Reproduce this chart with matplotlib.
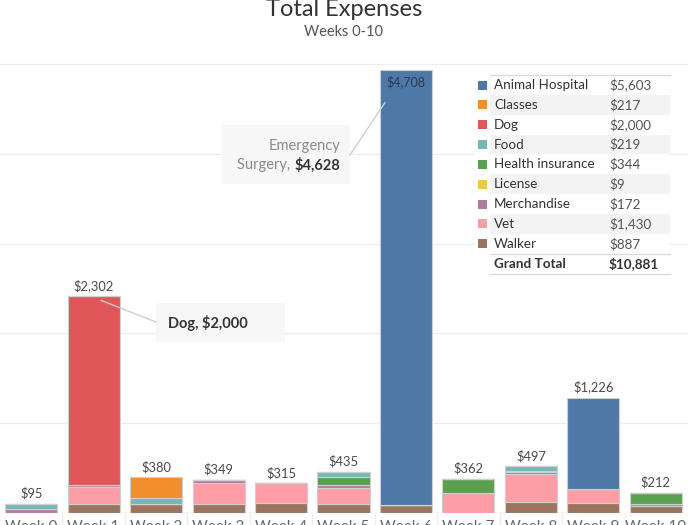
import matplotlib
matplotlib.use('Agg')
import matplotlib.pyplot as plt
from matplotlib.patches import Rectangle
from matplotlib.lines import Line2D
import numpy as np

plt.rcParams['font.family'] = ['Lato', 'DejaVu Sans']

# ---------------- data ----------------
weeks = [f"Week {i}" for i in range(11)]
categories = ['Animal Hospital', 'Classes', 'Dog', 'Food', 'Health insurance',
              'License', 'Merchandise', 'Vet', 'Walker']
animal_hospital = [0, 0, 0, 0, 0, 0, 4628, 0, 0, 975, 0]
classes         = [0, 0, 217, 0, 0, 0, 0, 0, 0, 0, 0]
dog             = [0, 2000, 0, 0, 0, 0, 0, 0, 0, 0, 0]
food            = [50, 0, 65, 0, 0, 55, 0, 0, 49, 0, 0]
health_ins      = [0, 0, 0, 0, 0, 80, 0, 145, 0, 0, 119]
license_fee     = [0, 0, 0, 0, 0, 0, 0, 0, 9, 0, 0]
merchandise     = [45, 28, 0, 28, 0, 29, 0, 0, 28, 0, 14]
vet             = [0, 174, 0, 221, 205, 176, 0, 217, 296, 141, 0]
walker          = [0, 100, 98, 100, 110, 95, 80, 0, 115, 110, 79]

series = [animal_hospital, classes, dog, food, health_ins,
          license_fee, merchandise, vet, walker]
palette = ['#4e79a7', '#f28e2b', '#e15759', '#76b7b2', '#59a14f',
           '#edc948', '#b07aa1', '#ff9da7', '#9c755f']

dog_note = "Dog, $2,000"
surgery_value = 4628

# ---------------- figure ----------------
W, H = 700, 525
fig = plt.figure(figsize=(7, 5.25), dpi=100)

def fx(px):
    return px / W

def fy(py):
    return 1 - py / H

ax = fig.add_axes([0, 12 / H, 687 / W, 449 / H])
ymax = 4708 * 449 / 443
ax.set_xlim(-0.5, 10.5)
ax.set_ylim(0, ymax)
for s in ax.spines.values():
    s.set_visible(False)
ax.set_yticks([])
for k in range(1, 6):
    ax.axhline(ymax * k / 5, color='#ededed', lw=1, zorder=0, clip_on=False)
ax.axhline(0, color='#e3e3e3', lw=1, zorder=0)

x = np.arange(len(weeks))
bottom = np.zeros(len(weeks))
# stack bottom -> top in reverse legend order
for vals, col in zip(series[::-1], palette[::-1]):
    v = np.array(vals, dtype=float)
    ax.bar(x, v, bottom=bottom, width=0.835, color=col,
           edgecolor='#cfcfcf', linewidth=0.8, zorder=2)
    bottom += v

totals = bottom
for xi, t in zip(x, totals):
    lab = f"${int(round(t)):,}"
    if t > 0.93 * ymax:
        ax.annotate(lab, (xi, t), xytext=(0, -4), textcoords='offset points',
                    ha='center', va='top', fontsize=9, color='#2d3b52', zorder=3)
    else:
        ax.annotate(lab, (xi, t), xytext=(0, 3), textcoords='offset points',
                    ha='center', va='bottom', fontsize=9.3, color='#4a4a4a', zorder=3)

ax.set_xticks(x)
ax.set_xticklabels(weeks, fontsize=11, color='#666666')
ax.tick_params(axis='x', length=0, pad=5)
for xi in x[:-1]:
    ax.plot([xi + 0.5, xi + 0.5], [0, -ymax * 0.03], color='#eeeeee', lw=1,
            clip_on=False, zorder=0)

# ---------------- titles ----------------
fig.text(fx(344), fy(10), "Total Expenses", ha='center', va='center',
         fontsize=17, color='#333333')
fig.text(fx(344), fy(32), "Weeks 0-10", ha='center', va='center',
         fontsize=10.5, color='#555555')

# ---------------- legend table ----------------
row0, rowh = 85, 19.85
fig.add_artist(Rectangle((fx(474), fy(274)), fx(670 - 474), (274 - 75) / H,
                         transform=fig.transFigure, facecolor='white',
                         edgecolor='none', zorder=1))
for i in range(len(categories)):
    yc = row0 + rowh * i
    if i % 2 == 1:
        fig.add_artist(Rectangle((fx(490), fy(yc + rowh / 2)), fx(180), rowh / H,
                                 transform=fig.transFigure, facecolor='#f3f3f3',
                                 edgecolor='none', zorder=1))
    fig.add_artist(Rectangle((fx(478), fy(yc + 4.5)), fx(9), 9 / H,
                             transform=fig.transFigure, facecolor=palette[i],
                             edgecolor='none', zorder=2))
    fig.text(fx(494), fy(yc), categories[i], ha='left', va='center',
             fontsize=9.7, color='#333333', zorder=3)
    fig.text(fx(609), fy(yc), f"${sum(series[i]):,}", ha='left', va='center',
             fontsize=9.7, color='#555555', zorder=3)
ygt = row0 + rowh * len(categories)
grand = sum(sum(s) for s in series)
fig.text(fx(494), fy(ygt), "Grand Total", ha='left', va='center',
         fontsize=9.7, color='#333333', fontweight='bold', zorder=3)
fig.text(fx(609), fy(ygt), f"${grand:,}", ha='left', va='center',
         fontsize=9.7, color='#333333', fontweight='bold', zorder=3)
for yl in (75, ygt - rowh / 2, ygt + rowh / 2):
    fig.add_artist(Line2D([fx(490), fx(670)], [fy(yl), fy(yl)],
                          transform=fig.transFigure, color='#dcdcdc', lw=1, zorder=2))

# ---------------- annotations ----------------
# Dog annotation
fig.add_artist(Rectangle((fx(156), fy(342)), fx(129), 39 / H,
                         transform=fig.transFigure, facecolor='#f7f7f7',
                         edgecolor='none', zorder=1))
p_dog = fig.transFigure.inverted().transform(ax.transData.transform((1.12, 2259)))
fig.add_artist(Line2D([p_dog[0], fx(156)], [p_dog[1], fy(322)],
                      transform=fig.transFigure, color='#d0d0d0', lw=1, zorder=2))
fig.text(fx(168), fy(323), dog_note, ha='left', va='center', fontsize=10.5,
         fontweight='bold', color='#333333', zorder=3)

# Emergency surgery annotation
fig.add_artist(Rectangle((fx(222), fy(184)), fx(128), 59 / H,
                         transform=fig.transFigure, facecolor='#f7f7f7',
                         edgecolor='none', zorder=1))
p_sur = fig.transFigure.inverted().transform(ax.transData.transform((5.66, 4358)))
fig.add_artist(Line2D([p_sur[0], fx(350)], [p_sur[1], fy(155)],
                      transform=fig.transFigure, color='#d0d0d0', lw=1, zorder=2))
fig.text(fx(340), fy(146), "Emergency", ha='right', va='center', fontsize=10.5,
         color='#8a8a8a', zorder=3)
t_val = fig.text(fx(340), fy(165), f"${surgery_value:,}", ha='right', va='center',
                 fontsize=10.5, fontweight='bold', color='#333333', zorder=3)
fig.canvas.draw()
bb = t_val.get_window_extent(renderer=fig.canvas.get_renderer())
left = fig.transFigure.inverted().transform((bb.x0, bb.y0))[0]
fig.text(left, fy(165), "Surgery, ", ha='right', va='center', fontsize=10.5,
         color='#8a8a8a', zorder=3)

fig.savefig('out.png', dpi=100)
